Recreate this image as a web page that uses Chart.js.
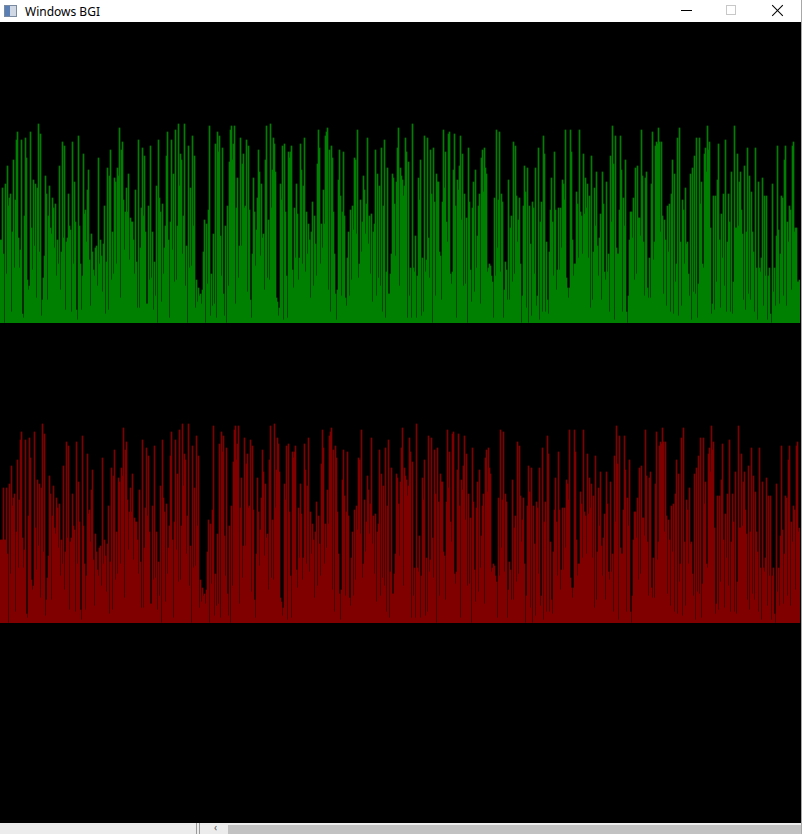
<!DOCTYPE html>
<html>
<head>
<meta charset="utf-8">
<script src="https://cdn.jsdelivr.net/npm/chart.js@4/dist/chart.umd.min.js"></script>
<style>
  html, body { margin:0; padding:0; }
  body { width:802px; height:834px; overflow:hidden; position:relative; background:#ffffff; font-family:"Noto Sans","DejaVu Sans",sans-serif; }
  #titlebar { position:absolute; left:0; top:0; width:802px; height:22px; background:#ffffff; }
  #titletext { position:absolute; left:25px; top:3px; font-size:12px; color:#000; font-family:"Noto Sans","Liberation Sans",sans-serif; }
  #icon { position:absolute; left:4px; top:5px; width:13px; height:12px; border:1px solid #7a8aa0; background:linear-gradient(90deg,#5a7fb5 0 45%,#cfd8e4 45% 100%); box-sizing:border-box; }
  #minbtn { position:absolute; left:681px; top:10px; width:11px; height:1px; background:#000; }
  #maxbtn { position:absolute; left:726px; top:5px; width:10px; height:10px; border:1px solid #c8c8c8; box-sizing:border-box; }
  .x1, .x2 { position:absolute; left:770px; top:10px; width:15px; height:1px; background:#000; }
  .x1 { transform:rotate(45deg); } .x2 { transform:rotate(-45deg); }
  #area { position:absolute; left:0; top:22px; width:801px; height:801px; background:#000; }
  #edge { position:absolute; left:801px; top:0; width:1px; height:834px; background:#a8a8a8; }
  #bottom { position:absolute; left:0; top:823px; width:801px; height:11px; background:#ececec; }
  #bdark { position:absolute; left:228px; top:2px; width:573px; height:9px; background:#c2c2c2; }
  .bl { position:absolute; top:0; width:1px; height:11px; background:#9a9a9a; }
  #barrow { position:absolute; left:214px; top:-3px; font-size:10px; color:#555; }
  canvas { position:absolute; left:0; }
</style>
</head>
<body>
<div id="titlebar">
  <div id="icon"></div>
  <div id="titletext">Windows BGI</div>
  <div id="minbtn"></div>
  <div id="maxbtn"></div>
  <div class="x1"></div><div class="x2"></div>
</div>
<div id="area">
  <canvas id="greenChart" width="800" height="200" style="top:101px"></canvas>
  <canvas id="redChart" width="800" height="200" style="top:401px"></canvas>
</div>
<div id="edge"></div>
<div id="bottom">
  <div class="bl" style="left:196px"></div>
  <div class="bl" style="left:199px"></div>
  <div id="barrow">&lsaquo;</div>
  <div id="bdark"></div>
</div>
<script>
// Heights of the bars (pixels above baseline, 0-200), one value per 1px column
const greenValues = [
  83,83,135,69,0,139,49,157,117,125,129,11,91,163,55,123,183,191,85,55,
  73,183,9,5,107,185,165,43,33,37,191,95,53,143,77,139,25,135,199,71,
  189,7,23,45,67,147,129,23,107,137,95,89,125,115,75,119,47,83,59,157,
  33,71,181,85,177,13,81,85,129,97,93,11,181,59,141,101,13,3,187,97,
  59,13,47,169,109,113,81,133,153,63,17,89,71,53,47,75,77,37,165,59,
  83,67,31,79,117,9,61,155,13,147,173,43,91,49,145,141,59,155,147,195,
  25,173,181,123,73,111,135,111,149,63,105,101,101,83,49,133,61,15,183,15,
  75,115,175,107,167,91,19,19,117,43,177,45,91,13,61,27,137,0,183,125,
  111,21,119,49,75,97,167,191,83,5,101,183,73,149,41,193,43,97,199,137,
  169,163,69,107,199,37,77,0,177,55,135,57,187,97,167,15,43,21,35,27,
  29,19,33,71,103,0,99,39,113,197,7,49,17,89,19,179,5,191,171,187,
  87,47,175,29,7,97,0,117,37,161,193,197,163,179,197,19,115,145,45,77,
  185,77,159,169,115,117,183,31,177,113,23,5,69,145,111,57,93,125,173,151,
  67,139,85,89,33,163,197,45,103,43,199,115,153,185,179,151,25,21,7,15,
  139,123,177,3,179,111,47,5,171,165,171,177,53,35,115,65,139,109,43,65,
  179,153,59,137,185,51,111,69,99,83,25,91,121,37,107,79,47,159,193,175,
  59,99,75,133,99,187,191,195,33,173,11,177,165,111,69,29,3,33,143,173,
  127,27,111,171,107,25,17,65,91,27,113,43,117,93,165,163,89,193,45,59,
  123,71,101,147,133,89,119,185,79,107,49,109,21,91,99,173,27,149,45,137,
  37,175,11,117,183,5,51,155,29,29,49,69,149,145,119,67,141,175,195,37,
  155,147,143,127,137,185,171,5,161,27,55,5,199,55,51,87,5,47,145,123,
  163,7,65,11,187,51,63,185,85,45,173,129,0,175,121,27,149,141,141,71,
  67,23,121,193,135,171,101,81,189,191,49,39,51,153,189,117,5,143,133,157,
  187,103,169,37,129,39,105,0,175,121,53,21,115,141,31,153,55,87,117,129,
  19,165,173,131,175,155,149,51,55,59,57,47,41,5,125,47,193,75,123,191,
  51,129,121,5,33,61,53,23,143,23,95,107,41,181,49,177,127,81,103,125,
  59,0,27,117,157,131,15,155,0,117,79,7,121,115,49,155,17,27,175,3,
  101,121,11,187,169,11,81,23,9,71,113,145,101,47,171,113,33,53,115,53,
  115,75,143,139,123,193,45,35,25,35,193,171,83,47,59,59,131,119,65,193,
  111,107,69,169,109,145,115,139,65,127,15,167,23,71,135,97,151,77,47,85,
  109,23,151,119,51,43,141,51,69,11,167,101,197,159,3,187,75,69,69,113,
  187,153,11,125,97,163,11,0,27,83,111,111,85,125,43,155,49,157,105,105,
  87,193,147,81,27,145,151,35,25,65,25,139,191,63,81,177,181,179,195,181,
  91,181,107,29,103,83,17,117,71,119,11,129,163,9,149,41,59,185,7,195,
  81,17,123,113,59,135,79,81,49,27,149,3,155,31,167,29,185,5,39,185,
  119,141,59,55,169,175,151,197,173,181,95,9,19,127,13,127,41,143,179,83,
  15,109,65,129,37,183,11,81,129,101,11,151,9,41,197,95,95,169,97,141,
  151,113,89,23,157,13,91,175,29,147,23,131,91,71,11,175,55,3,141,55,
  51,65,145,17,127,47,127,3,47,55,9,0,139,31,55,17,87,177,93,19,
  69,127,125,27,163,177,17,101,81,117,113,33,177,181,91,95,95,41,41,43
];
// The red row repeats the green heights, displaced 4 columns to the right
const redHead = [83,83,83,135];
const redValues = redHead.concat(greenValues.slice(0, greenValues.length - redHead.length));
const columnLabels = greenValues.map((_, i) => String(i));

function makeChart(id, values, color) {
  return new Chart(document.getElementById(id), {
    type: 'bar',
    data: {
      labels: columnLabels,
      datasets: [{
        data: values,
        backgroundColor: color,
        borderWidth: 0,
        barPercentage: 1.0,
        categoryPercentage: 1.0
      }]
    },
    options: {
      responsive: false,
      animation: false,
      events: [],
      layout: { padding: 0 },
      plugins: { legend: { display: false }, tooltip: { enabled: false }, title: { display: false } },
      scales: {
        x: { display: false, grid: { display: false }, offset: true },
        y: { display: false, min: 0, max: 200, grid: { display: false } }
      }
    }
  });
}
makeChart('greenChart', greenValues, 'rgb(0,128,0)');
makeChart('redChart', redValues, 'rgb(128,0,0)');
</script>
</body>
</html>
